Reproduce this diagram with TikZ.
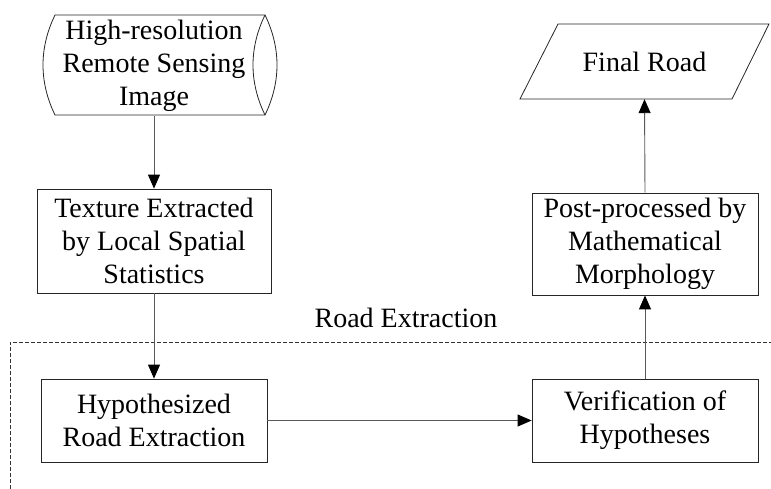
\documentclass[tikz,border=0pt]{standalone}
\usepackage{fontspec}
\setmainfont{Liberation Serif}
\usetikzlibrary{arrows.meta}
\begin{document}
\begin{tikzpicture}[x=1pt,y=-1pt,
  txt/.style={align=center,font=\fontsize{28}{33}\selectfont,inner sep=0pt},
  procbox/.style={txt,draw=black!85,line width=0.8pt,minimum width=226pt,minimum height=83pt},
  conn/.style={draw=black!65,line width=0.9pt,-{Triangle[length=14pt,width=12pt,color=black]}},
  shapeline/.style={draw=black!85,line width=0.8pt},
  boundary/.style={draw=black!80,line width=0.7pt,dash pattern=on 4pt off 2pt}]
\useasboundingbox (0,0) rectangle (771,489);

% source (stored data shape)
\node[txt,minimum height=100pt] (src) at (154,66) {High-resolution\\Remote Sensing\\Image};
\draw[shapeline] (55,15) -- (265,15)
   .. controls (281,48) and (281,82) .. (265,115)
   -- (55,115)
   .. controls (39,82) and (39,48) .. (55,15) -- cycle;
\draw[shapeline] (265,15) .. controls (249,48) and (249,82) .. (265,115);

\node[procbox,minimum width=234pt,minimum height=104pt] (tex) at (154,241) {Texture Extracted\\by Local Spatial\\Statistics};
\node[procbox] (hyp) at (154,420.5) {Hypothesized\\Road Extraction};
\node[procbox] (ver) at (645,420.5) {Verification of\\Hypotheses};
\node[procbox,minimum height=102pt] (post) at (645,244) {Post-processed by\\Mathematical\\Morphology};

% final road parallelogram
\node[txt,minimum height=75pt,minimum width=190pt] (final) at (644.5,61.5) {Final Road};
\draw[shapeline] (558,24) -- (769,24) -- (732,99) -- (520,99) -- cycle;

% region boundary
\coordinate (bl) at (10,489);
\coordinate (tl) at (10,342);
\coordinate (tr) at (771,342);
\draw[boundary] (bl) -- (tl) -- (tr);
\node[txt] (lbl) at (406,318) {Road Extraction};

% connectors
\draw[conn] (src.south) -- (tex.north);
\draw[conn] (tex.south) -- (hyp.north);
\draw[conn] (hyp.east) -- (ver.west);
\draw[conn] (ver.north) -- (post.south);
\draw[conn] (post.north) -- (final.south);
\end{tikzpicture}
\end{document}
